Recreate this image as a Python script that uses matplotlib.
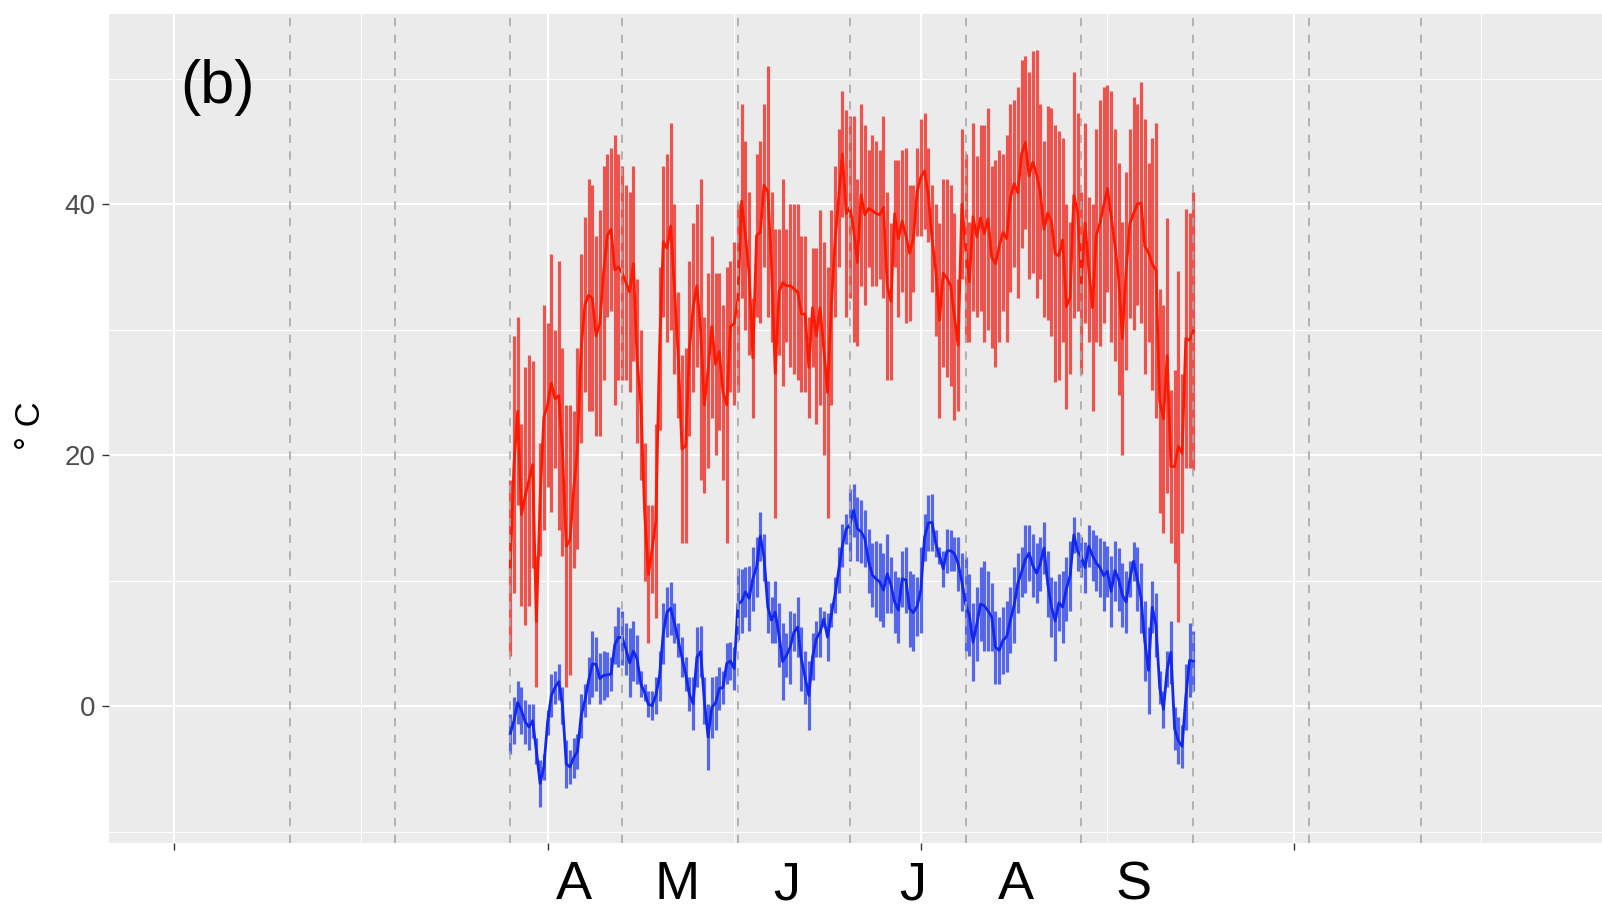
import numpy as np
import matplotlib
matplotlib.use('Agg')
import matplotlib.pyplot as plt
from matplotlib.transforms import blended_transform_factory

plt.rcParams['font.family'] = ['Liberation Sans', 'DejaVu Sans']

# day of year (0 = 1 January) of the first record (1 April)
first_day = 90

red_max = [18, 29.5, 31, 22.5, 27, 28, 27.5, 12, 21, 32,
           30.5, 36, 30, 35.5, 28.5, 24, 24, 23.5, 28.5, 36,
           39, 42, 41.5, 37.5, 39.5, 43, 44, 44.5, 45.5, 44,
           43, 41.5, 41, 43, 34, 30, 21, 16, 16, 22.5,
           35, 43, 44, 46.5, 40, 33, 28, 28.5, 35.5, 38.5,
           40, 42, 31, 34.5, 37.5, 34.5, 34.5, 32, 35, 35.5,
           37, 40, 48, 45, 41, 32.5, 44, 45, 48, 51,
           41, 38, 38, 42, 38, 40, 40, 40, 37.5, 37.5,
           31, 36.5, 36.5, 39.5, 37, 35, 39.5, 43, 46, 49,
           47.5, 47, 47, 42, 48, 46.3, 44.3, 45.5, 45, 44.3,
           47, 41, 38.5, 43.5, 43.5, 44.3, 44.5, 41.5, 41.5, 44.5,
           46.8, 47.3, 44.5, 41.5, 40, 38.5, 42, 42, 41.5, 39.3,
           34, 46, 44, 38.6, 46.5, 43.8, 46.3, 46.3, 47.7, 43,
           43.5, 44.3, 44, 45.5, 48, 48.3, 49.3, 51.5, 51.8, 50.5,
           52.2, 52.3, 48, 45, 47.8, 47.7, 46.3, 45.8, 45.3, 40,
           38.6, 50.5, 47.3, 41, 46.5, 40.6, 40, 46, 48.3, 49.3,
           49.5, 49, 46, 43.3, 38.6, 42.6, 46, 48.5, 48, 49.7,
           46.8, 43.3, 45.3, 46.5, 33.2, 32, 38.9, 25.2, 26.8, 34.7,
           26.5, 39.6, 39.3, 41]

red_min = [4, 9, 16, 8, 6.5, 8, 11, 1.5, 12, 14,
           17.5, 15.5, 19, 14, 12, 1.5, 2.5, 11, 12.5, 21,
           25, 23.5, 23.5, 21.5, 21.5, 26, 31, 31.5, 24, 26,
           26, 26, 25, 27.5, 21, 18, 10, 5, 9, 7,
           22, 31, 29, 30, 26.5, 23, 13, 13, 21.5, 25,
           27, 18, 17, 19, 23, 20, 22, 18, 13, 25,
           24, 25, 32.5, 30, 28, 23, 31, 30.5, 35, 31,
           29, 15, 28, 25.5, 29, 27, 26.5, 26, 25, 25,
           23, 27, 22.5, 24, 20, 15, 24, 31, 35, 39,
           31, 32.5, 29, 28.7, 33.5, 32, 35, 33.5, 33.5, 34,
           32.5, 26, 26, 35, 31, 33, 30.5, 30.7, 33, 37.5,
           37.5, 38, 37, 33, 29.5, 23, 27, 26.2, 25.5, 22.8,
           23.5, 34, 29, 29, 31.5, 31, 31.5, 29, 30, 28.5,
           27, 29, 31.5, 29, 33, 35, 32.5, 36.5, 38, 34,
           34.5, 32.5, 34, 31, 30.8, 29.5, 25.8, 26, 29, 23.7,
           26.5, 30.9, 31.5, 26.5, 30.5, 29, 23.5, 29, 28.7, 30.5,
           33, 29, 27.5, 24.8, 20, 26.8, 30.9, 30, 32, 30.5,
           26.5, 29, 25.2, 23, 15.4, 13.8, 17, 13, 11.4, 6.7,
           13.8, 19, 19, 18.8]

blue_max = [-0.6, 0.7, 2, 1.5, 0.5, 0.2, 0.2, -2.5, -4.3, -3.8,
            -0.3, 2.6, 2.8, 3.4, 1.5, -2.7, -3.5, -2.5, -2.2, 1,
            1.8, 3.9, 6, 5.5, 4.2, 4.4, 4.3, 3.9, 6.4, 7.9,
            7.6, 6.6, 6.2, 6.8, 5.7, 2.8, 1.8, 1.2, 1.2, 2.3,
            4.4, 8.2, 9.5, 9.9, 8.2, 6.6, 5.5, 3.9, 2.3, 2.3,
            6.3, 6.4, 2.3, 0.2, 2.3, 2.4, 3.1, 2.8, 5, 5.1,
            4.7, 11, 10.9, 11.1, 11.2, 12.7, 13.5, 15.5, 13.7, 10,
            8.7, 10, 8.2, 6.6, 5.8, 7.6, 7.4, 8.7, 6.3, 4.4,
            3.6, 5.8, 6.8, 7.9, 7.6, 7.4, 8.2, 10.3, 12.7, 14.5,
            15.3, 17.3, 17.7, 16.7, 16.4, 15.6, 14.1, 13, 13.2, 13,
            12.2, 13.7, 11.9, 10.8, 10.3, 12.4, 12.7, 10.8, 10.5, 10.3,
            12.7, 15.3, 16.8, 16.9, 14, 12.7, 12.4, 14.1, 14, 13.5,
            13.5, 12.2, 11.9, 10.5, 8.2, 9.5, 11.1, 11.6, 10.8, 9.8,
            7.6, 7.1, 7.9, 8.4, 9.5, 11.1, 12.2, 12.7, 14.4, 14.4,
            13.7, 13, 13.5, 14.7, 12.4, 10.3, 10, 10.5, 10.8, 11.9,
            13.2, 15.1, 13.9, 13.5, 13.1, 14.4, 14, 13.6, 13.4, 13.2,
            12.8, 12, 13.2, 12.6, 11.4, 10.8, 11.6, 13.1, 12.7, 11.4,
            8.4, 6.3, 10, 9, 2.8, 1.2, 4.4, 6.8, -0.1, -0.9,
            -1.5, 3.4, 6.6, 6]

blue_min = [-3.8, -3, -1.4, -2.2, -3, -3.5, -2.5, -4.6, -8, -5.9,
            -2.3, -0.9, 0.2, 0.5, -1.4, -6.5, -6.2, -5.7, -5, -2.5,
            -0.9, 0.2, 0.7, 1.2, 0.2, 0.5, 0.7, 1.2, 3.4, 3.1,
            3.3, 2.5, 0.7, 2, 1.8, 0.7, 0.4, -0.9, -1.1, -0.6,
            0.4, 3.4, 5.5, 5.7, 5, 3.9, 2.3, 1.2, -0.4, -1.9,
            1.5, 2.3, -1.4, -5.1, -2.5, -1.9, -0.3, 0.2, 1.8, 2.1,
            1.3, 5.3, 5.8, 7.1, 6, 7.6, 8.7, 11.6, 10, 5.8,
            5, 5, 3.1, 0.5, 2.3, 1.8, 4.4, 3.9, 1.2, 0.2,
            -1.9, 2.1, 3.9, 3.9, 6.3, 3.6, 6.3, 7.4, 9, 11.1,
            12.9, 11.6, 13.5, 11.6, 11.4, 11.1, 9, 7.9, 7.1, 6.8,
            6.3, 7.4, 7.4, 5.8, 5, 7.9, 7.4, 4.7, 4.4, 5.6,
            5.8, 11.6, 12.4, 12.4, 11.9, 11.3, 9.5, 10.6, 10.8, 10.8,
            9.2, 7.6, 4.4, 4, 2, 3.6, 5.2, 4.4, 4.4, 4.4,
            1.8, 1.8, 2.6, 2.7, 4.2, 5, 7.4, 8.7, 9, 10,
            8.7, 8.2, 9.2, 10.5, 7.1, 5.5, 3.6, 6, 5, 6.8,
            7.6, 12.2, 10.8, 10.3, 9, 11.1, 10, 9.2, 8.7, 7.6,
            8.7, 6.3, 8.4, 7.6, 6.3, 5.8, 8.7, 10, 7.6, 5.8,
            2, -0.6, 5.8, 3.9, 0.2, -1.7, 1.5, 1.8, -3.5, -4.6,
            -4.9, -1.9, 0.7, 1.2]

month_labels = ['A', 'M', 'J', 'J', 'A', 'S']
month_label_x = [107, 134.7, 164, 197.7, 225.6, 257]
month_starts = [31, 59, 90, 120, 151, 181, 212, 243, 273, 304, 334]
y_major = [0, 20, 40]
y_minor = [-10, 10, 30, 50]
x_major = [0, 100, 200, 300]
x_minor = [50, 150, 250, 350]

days = first_day + np.arange(len(red_max))
red_max = np.array(red_max); red_min = np.array(red_min)
blue_max = np.array(blue_max); blue_min = np.array(blue_min)

W, H = 1602, 913
fig = plt.figure(figsize=(W / 100, H / 100), dpi=100)
left, right, top, bottom = 109, 1602, 14, 843
ax = fig.add_axes([left / W, 1 - bottom / H, (right - left) / W, (bottom - top) / H])
ax.set_facecolor('#EBEBEB')
for s in ax.spines.values():
    s.set_visible(False)

ax.set_xlim(-17.5, 382.5)
ax.set_ylim(-10.9, 55.15)

# grid
for y in y_major:
    ax.axhline(y, color='white', lw=1.5, zorder=0)
for y in y_minor:
    ax.axhline(y, color='white', lw=0.75, zorder=0)
for x in x_major:
    ax.axvline(x, color='white', lw=1.5, zorder=0)
for x in x_minor:
    ax.axvline(x, color='white', lw=0.75, zorder=0)

# data: daily ranges + daily mid line
ax.vlines(days, red_min, red_max, color='#EE3A33', lw=2.3, alpha=0.85, zorder=2)
ax.plot(days, (red_min + red_max) / 2, color='#FF1A00', lw=2.0, zorder=3)
ax.vlines(days, blue_min, blue_max, color='#3C50EA', lw=2.3, alpha=0.85, zorder=2)
ax.plot(days, (blue_min + blue_max) / 2, color='#1228F0', lw=2.0, zorder=3)

# month boundaries
for x in month_starts:
    ax.axvline(x, color='#A8A8A8', lw=1.2, ls=(0, (5, 5)), zorder=4)

# ticks
ax.set_yticks(y_major)
ax.set_yticklabels([str(v) for v in y_major])
ax.set_xticks(x_major)
ax.set_xticklabels([])
ax.tick_params(axis='both', length=5, width=1.0, color='#333333')
ax.tick_params(axis='y', labelsize=20, labelcolor='#4D4D4D', pad=5)
ax.minorticks_off()

# month letters below the panel
tr = blended_transform_factory(ax.transData, fig.transFigure)
for m, lab in zip(month_label_x, month_labels):
    ax.text(m, 1 - 885 / H, lab, transform=tr, ha='center', va='center',
            fontsize=39, color='black', clip_on=False)

# y label
fig.text(30 / W, 1 - 426 / H, '° C', rotation=90, ha='center', va='center',
         fontsize=25, color='black')

# panel tag
ax.text(1.5, 49.3, '(b)', ha='left', va='center', fontsize=44, color='black')

fig.savefig('out.png', dpi=100)
